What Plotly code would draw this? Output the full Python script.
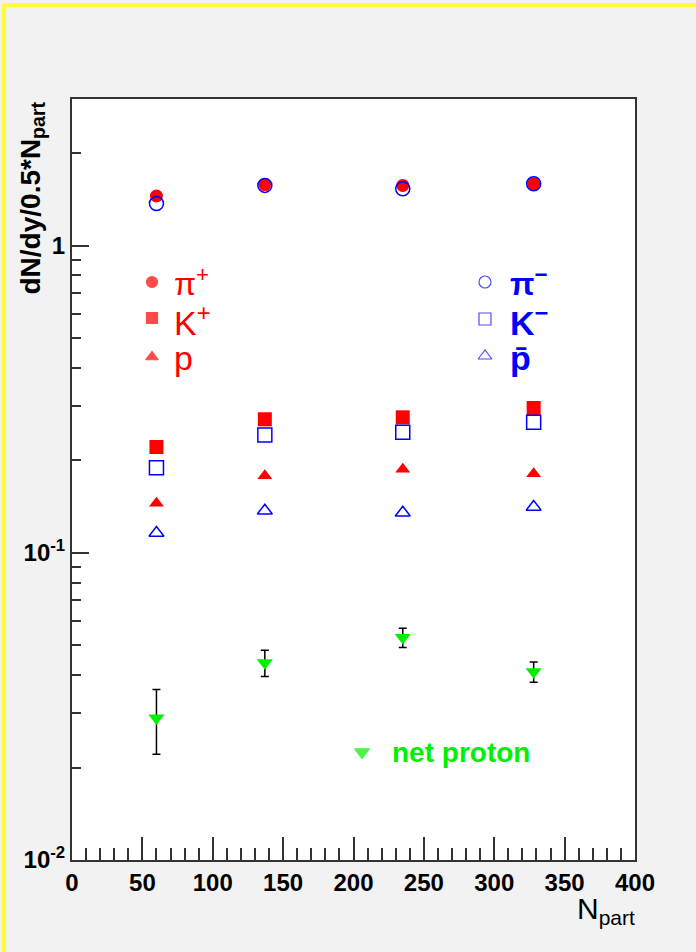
import math
import plotly.graph_objects as go

# Participant number for each centrality bin
npart = [60, 137, 235, 328]

# dN/dy per participant pair
pi_plus = [1.45, 1.58, 1.57, 1.59]
pi_minus = [1.37, 1.57, 1.53, 1.59]
k_plus = [0.221, 0.272, 0.276, 0.296]
k_minus = [0.189, 0.242, 0.247, 0.266]
proton = [0.145, 0.178, 0.187, 0.181]
antiproton = [0.116, 0.137, 0.135, 0.141]
net_proton = [0.029, 0.0439, 0.053, 0.041]
net_proton_err = [0.0069, 0.0043, 0.0038, 0.0031]

x_ticks = [0, 50, 100, 150, 200, 250, 300, 350, 400]
y_ticks = [0.01, 0.1, 1]
y_tick_text = ["10<sup>-2</sup>", "10<sup>-1</sup>", "1"]

W, H = 696, 952
L, T, R, B = 72, 99, 635, 860          # frame in pixels
RED, BLUE, GREEN = "#ff0000", "#0000ff", "#00f000"
FRAME = "#333333"
SANS = "Liberation Sans, Arial, sans-serif"


def fx(px):
    return (px - L) / (R - L)


def fy(py):
    return (B - py) / (B - T)


fig = go.Figure()


def add(y, symbol, color, size, open_=False, **kw):
    fig.add_trace(go.Scatter(
        x=npart, y=y, mode="markers",
        marker=dict(symbol=symbol, size=size,
                    color="rgba(0,0,0,0)" if open_ else color,
                    line=dict(color=color, width=1.5 if open_ else 0)),
        hoverinfo="skip", **kw))


add(pi_plus, "circle", RED, 13)
add(pi_minus, "circle", BLUE, 14, open_=True)
add(k_plus, "square", RED, 14)
add(k_minus, "square", BLUE, 14, open_=True)
add(proton, "triangle-up", RED, 13)
add(antiproton, "triangle-up", BLUE, 13, open_=True)
add(net_proton, "triangle-down", GREEN, 14,
    error_y=dict(type="data", array=net_proton_err, color="black",
                 thickness=1.5, width=4))

# legend symbols on an overlay axis spanning the frame (0..1)
leg_x = [fx(152), fx(152), fx(152), fx(485), fx(485), fx(485), fx(362)]
leg_y = [fy(282), fy(318), fy(357), fy(282), fy(319), fy(356), fy(752)]
leg_sym = ["circle", "square", "triangle-up", "circle-open", "square-open",
           "triangle-up-open", "triangle-down"]
leg_col = [RED, RED, RED, BLUE, BLUE, BLUE, GREEN]
leg_size = [11, 11, 11, 12, 12, 12, 13]
fig.add_trace(go.Scatter(
    x=leg_x, y=leg_y, mode="markers", xaxis="x2", yaxis="y2",
    marker=dict(symbol=leg_sym, color=leg_col, size=leg_size,
                line=dict(color=leg_col, width=1.2)),
    hoverinfo="skip"))

ann = []


def text(px, py, s, color, size, xanchor="left", yanchor="middle", **kw):
    ann.append(dict(x=fx(px), y=fy(py), xref="paper", yref="paper", text=s,
                    showarrow=False, xanchor=xanchor, yanchor=yanchor,
                    font=dict(color=color, size=size, family=SANS, **kw)))


text(172, 282, "π<sup>+</sup>", RED, 32)
text(172, 320, "K<sup>+</sup>", RED, 34)
text(172, 358, "p", RED, 34)
text(508, 282, "π<sup>−</sup>", BLUE, 32, weight="bold")
text(508, 320, "K<sup>−</sup>", BLUE, 34, weight="bold")
text(508, 358, "p̄", BLUE, 34, weight="bold")
text(390, 752, "net proton", GREEN, 28, weight="bold")

# axis titles
ann.append(dict(x=fx(32), y=fy(100), xref="paper", yref="paper",
                text="dN/dy/0.5*N<sub>part</sub>", textangle=-90,
                showarrow=False, xanchor="center", yanchor="top",
                font=dict(size=28, family=SANS, weight="bold", color="black")))
ann.append(dict(x=fx(637), y=fy(890), xref="paper", yref="paper",
                text="N<sub>part</sub>", showarrow=False,
                xanchor="right", yanchor="top",
                font=dict(size=30, family=SANS, color="black")))

# canvas border strips (left and top)
shapes = [
    dict(type="rect", xref="paper", yref="paper", x0=fx(2), x1=fx(6),
         y0=fy(H + 5), y1=fy(3), fillcolor="#ffff33", line=dict(width=0)),
    dict(type="rect", xref="paper", yref="paper", x0=fx(2), x1=fx(W + 5),
         y0=fy(7), y1=fy(3), fillcolor="#ffff33", line=dict(width=0)),
]

y_minor = [m * 10 ** e for e in (-2, -1) for m in range(2, 10)] + [2, 3]

fig.update_layout(
    width=W, height=H,
    margin=dict(l=L, r=W - R, t=T, b=H - B, pad=0),
    paper_bgcolor="#f2f2f2", plot_bgcolor="white",
    showlegend=False,
    annotations=ann, shapes=shapes,
    xaxis=dict(range=[0, 400], tickvals=x_ticks, ticks="inside", ticklen=23,
               tickwidth=1.5, tickcolor=FRAME, showgrid=False, zeroline=False,
               showline=True, linecolor=FRAME, linewidth=2, mirror=True,
               tickfont=dict(size=24, family=SANS, weight="bold", color="black"),
               minor=dict(ticks="inside", ticklen=12, dtick=10, tick0=0,
                          tickcolor=FRAME, tickwidth=1.5, showgrid=False)),
    yaxis=dict(type="log", range=[-2, math.log10(3)], tickvals=y_ticks,
               ticktext=y_tick_text, ticks="inside", ticklen=17, tickwidth=1.5,
               tickcolor=FRAME, showgrid=False, zeroline=False,
               showline=True, linecolor=FRAME, linewidth=2, mirror=True,
               tickfont=dict(size=24, family=SANS, weight="bold", color="black"),
               minor=dict(ticks="inside", ticklen=9, tickvals=y_minor,
                          tickcolor=FRAME, tickwidth=1.5, showgrid=False)),
    xaxis2=dict(range=[0, 1], overlaying="x", visible=False),
    yaxis2=dict(range=[0, 1], overlaying="y", visible=False),
)

fig.write_html("out.html")
